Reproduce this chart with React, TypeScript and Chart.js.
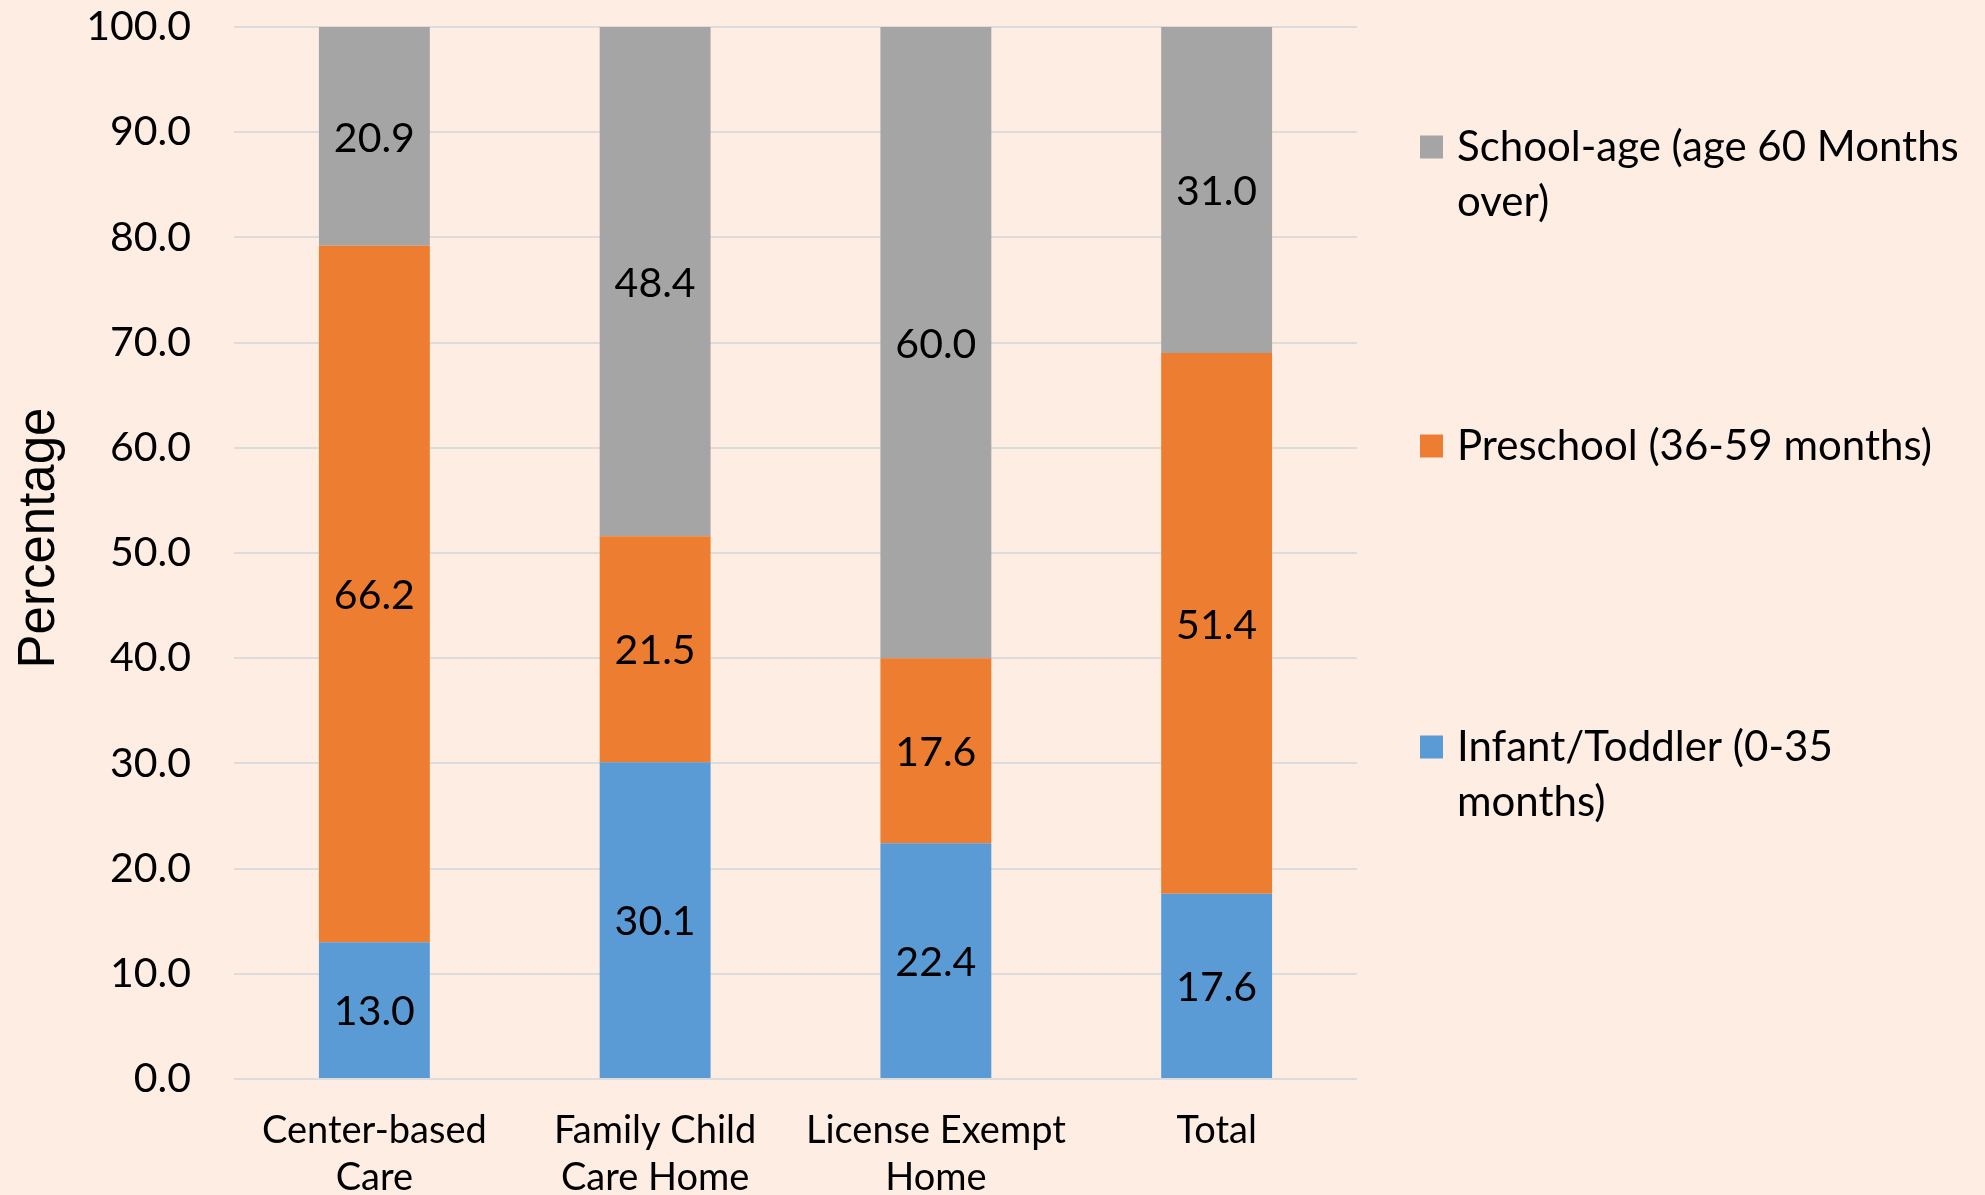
import React, { useEffect, useRef } from "react";
import { Chart, registerables } from "chart.js";

Chart.register(...registerables);

// ---- data ----
const categories: string[][] = [
  ["Center-based", "Care"],
  ["Family Child", "Care Home"],
  ["License Exempt", "Home"],
  ["Total"],
];
const infantToddler = [13.0, 30.1, 22.4, 17.6];
const preschool = [66.2, 21.5, 17.6, 51.4];
const schoolAge = [20.9, 48.4, 60.0, 31.0];
const seriesNames = [
  "Infant/Toddler (0-35 months)",
  "Preschool (36-59 months)",
  "School-age (age 60 Months over)",
];
// legend text, top to bottom, as it wraps in the picture
const legendLines: string[][] = [
  ["School-age (age 60 Months", "over)"],
  ["Preschool (36-59 months)"],
  ["Infant/Toddler (0-35", "months)"],
];
const yTickMin = 0;
const yTickMax = 100;
const yTickStep = 10;
const yAxisTitle = "Percentage";

// ---- styles ----
const BG = "#FDEDE3";
const COLORS = ["#5B9BD5", "#ED7D31", "#A5A5A5"];
const FONT = "Lato, 'Open Sans', sans-serif";
const W = 1985;
const H = 1195;

const bgPlugin = {
  id: "bg",
  beforeDraw(chart: any) {
    const { ctx } = chart;
    ctx.save();
    ctx.fillStyle = BG;
    ctx.fillRect(0, 0, chart.width, chart.height);
    ctx.restore();
  },
};

const valueLabelPlugin = {
  id: "valueLabels",
  afterDatasetsDraw(chart: any) {
    const { ctx } = chart;
    ctx.save();
    ctx.font = `41px ${FONT}`;
    ctx.fillStyle = "#000000";
    ctx.textAlign = "center";
    ctx.textBaseline = "middle";
    chart.data.datasets.forEach((ds: any, di: number) => {
      const meta = chart.getDatasetMeta(di);
      meta.data.forEach((el: any, i: number) => {
        const top = Math.max(el.y, chart.chartArea.top);
        const y = (top + el.base) / 2;
        ctx.fillText(Number(ds.data[i]).toFixed(1), el.x, y + 2);
      });
    });
    ctx.restore();
  },
};

const axisTitlePlugin = {
  id: "axisTitle",
  afterDraw(chart: any) {
    const { ctx } = chart;
    ctx.save();
    ctx.translate(40, 538);
    ctx.rotate(-Math.PI / 2);
    ctx.font = `51px 'Liberation Sans', Arial, sans-serif`;
    ctx.fillStyle = "#000000";
    ctx.textAlign = "center";
    ctx.textBaseline = "middle";
    ctx.fillText(yAxisTitle, 0, 0);
    ctx.restore();
  },
};

const legendPlugin = {
  id: "customLegend",
  afterDraw(chart: any) {
    const { ctx } = chart;
    const order = [2, 1, 0];
    const centers = [147, 446, 747];
    const swX = 1420;
    const sw = 23;
    const textX = 1457;
    const lineH = 55;
    ctx.save();
    ctx.font = `42px ${FONT}`;
    ctx.textAlign = "left";
    ctx.textBaseline = "middle";
    order.forEach((di, k) => {
      const cy = centers[k];
      ctx.fillStyle = COLORS[di];
      ctx.fillRect(swX, cy - sw / 2, sw, sw);
      ctx.fillStyle = "#000000";
      legendLines[k].forEach((line, li) => {
        ctx.fillText(line, textX, cy + li * lineH);
      });
    });
    ctx.restore();
  },
};

export default function App() {
  const ref = useRef<HTMLCanvasElement | null>(null);

  useEffect(() => {
    document.body.style.margin = "0";
    document.body.style.background = BG;
    const canvas = ref.current;
    if (!canvas) return;
    const chart = new Chart(canvas, {
      type: "bar",
      data: {
        labels: categories as any,
        datasets: [infantToddler, preschool, schoolAge].map((d, i) => ({
          label: seriesNames[i],
          data: d,
          backgroundColor: COLORS[i],
          borderWidth: 0,
          barPercentage: 0.395,
          categoryPercentage: 1.0,
        })),
      },
      options: {
        animation: false,
        responsive: false,
        devicePixelRatio: 1,
        layout: { padding: { left: 0, right: 628, top: 27, bottom: 0 } },
        plugins: {
          legend: { display: false },
          tooltip: { enabled: false },
          title: { display: false },
        },
        scales: {
          x: {
            stacked: true,
            grid: { display: false, drawTicks: false },
            border: { display: false },
            ticks: {
              color: "#000000",
              font: { family: FONT, size: 38, lineHeight: 1.22 },
              padding: 29,
              maxRotation: 0,
              autoSkip: false,
            },
            afterFit(scale: any) {
              scale.height = 116;
              scale.paddingTop = 0;
              scale.paddingBottom = 0;
            },
          },
          y: {
            stacked: true,
            min: yTickMin,
            max: yTickMax,
            grid: { color: "#DCDCDC", lineWidth: 2, drawTicks: false },
            border: { display: false },
            ticks: {
              stepSize: yTickStep,
              color: "#000000",
              font: { family: FONT, size: 41 },
              padding: 43,
              callback: (v: any) => Number(v).toFixed(1),
            },
            afterFit(scale: any) {
              scale.width = 234;
              scale.paddingTop = 0;
              scale.paddingBottom = 0;
            },
          },
        },
      },
      plugins: [bgPlugin, valueLabelPlugin, axisTitlePlugin, legendPlugin],
    });
    return () => chart.destroy();
  }, []);

  return (
    <div style={{ width: W, height: H, background: BG }}>
      <canvas ref={ref} width={W} height={H} style={{ display: "block" }} />
    </div>
  );
}
